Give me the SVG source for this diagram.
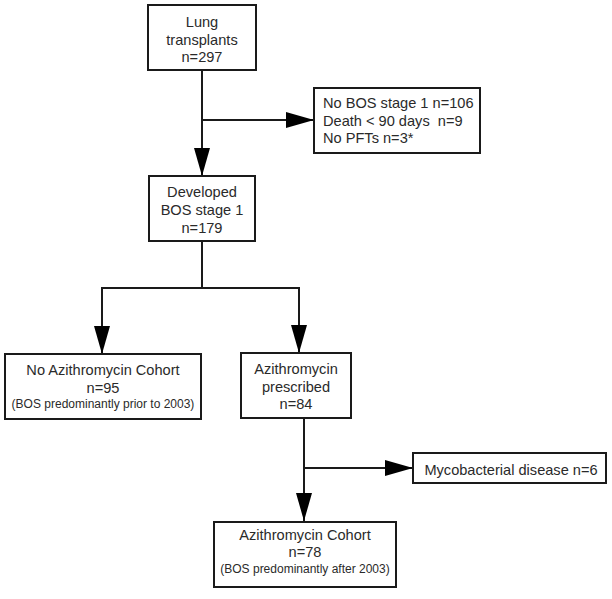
<svg xmlns="http://www.w3.org/2000/svg" width="612" height="599" viewBox="0 0 612 599">
<style>
.box{fill:#fff;stroke:#1a1a1a;stroke-width:2}
.t{font-family:"Liberation Sans",Arial,sans-serif;font-size:14.6px;fill:#2a2a2a}
.s{font-family:"Liberation Sans",Arial,sans-serif;font-size:12px;fill:#2a2a2a}
.c{text-anchor:middle}
.ln{fill:none;stroke:#1a1a1a;stroke-width:2}
</style>
<defs>
<marker id="ah" markerUnits="userSpaceOnUse" markerWidth="28" markerHeight="16" refX="28" refY="8" orient="auto">
<path d="M0,0 L28,8 L0,16 z" fill="#000"/>
</marker>
</defs>
<rect width="612" height="599" fill="#fff"/>
<g id="connectors">
<line class="ln" x1="202" y1="70" x2="202" y2="176" marker-end="url(#ah)"/>
<line class="ln" x1="202" y1="120" x2="314" y2="120" marker-end="url(#ah)"/>
<line class="ln" x1="202" y1="241" x2="202" y2="288"/>
<line class="ln" x1="101" y1="288" x2="300" y2="288"/>
<polyline class="ln" points="102,288 102,354" marker-end="url(#ah)"/>
<polyline class="ln" points="299,288 299,353" marker-end="url(#ah)"/>
<line class="ln" x1="304" y1="418" x2="304" y2="521" marker-end="url(#ah)"/>
<line class="ln" x1="304" y1="468" x2="413" y2="468" marker-end="url(#ah)"/>
</g>
<g id="n1">
<rect class="box" x="148" y="5" width="108" height="65"/>
<text class="t c" x="202" y="27">Lung</text>
<text class="t c" x="202" y="45">transplants</text>
<text class="t c" x="202" y="62">n=297</text>
</g>
<g id="n2">
<rect class="box" x="314" y="88" width="166" height="65"/>
<text class="t" x="323" y="108">No BOS stage 1 n=106</text>
<text class="t" x="323" y="126" xml:space="preserve">Death &lt; 90 days  n=9</text>
<text class="t" x="323" y="143">No PFTs n=3*</text>
</g>
<g id="n3">
<rect class="box" x="149" y="176" width="106" height="65"/>
<text class="t c" x="202" y="197">Developed</text>
<text class="t c" x="202" y="215">BOS stage 1</text>
<text class="t c" x="202" y="233">n=179</text>
</g>
<g id="n4">
<rect class="box" x="5" y="354" width="196" height="65"/>
<text class="t c" x="103" y="375">No Azithromycin Cohort</text>
<text class="t c" x="103" y="393">n=95</text>
<text class="s c" x="103" y="408">(BOS predominantly prior to 2003)</text>
</g>
<g id="n5">
<rect class="box" x="241" y="353" width="110" height="65"/>
<text class="t c" x="296" y="374">Azithromycin</text>
<text class="t c" x="296" y="392">prescribed</text>
<text class="t c" x="296" y="409">n=84</text>
</g>
<g id="n6">
<rect class="box" x="413" y="453" width="193" height="30"/>
<text class="t c" x="511" y="475">Mycobacterial disease n=6</text>
</g>
<g id="n7">
<rect class="box" x="214" y="522" width="182" height="65"/>
<text class="t c" x="305" y="540">Azithromycin Cohort</text>
<text class="t c" x="305" y="557">n=78</text>
<text class="s c" x="305" y="573">(BOS predominantly after 2003)</text>
</g>
</svg>
